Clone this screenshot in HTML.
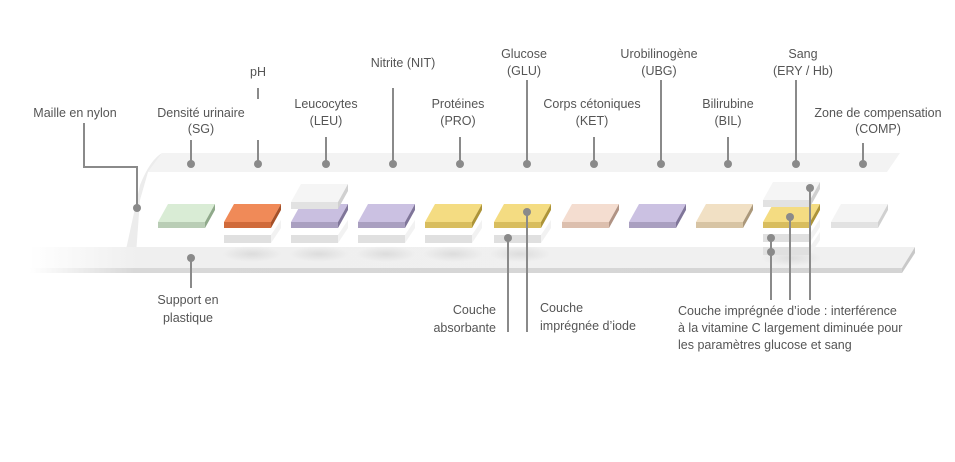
<!DOCTYPE html>
<html><head><meta charset="utf-8"><style>
html,body{margin:0;padding:0;background:#fff}
svg{display:block}
text{font-family:"Liberation Sans",sans-serif;font-size:12.5px;fill:#555}
</style></head><body>
<svg width="955" height="462" viewBox="0 0 955 462" xmlns="http://www.w3.org/2000/svg">
<defs>
<linearGradient id="base" x1="0" x2="1" y1="0" y2="0">
<stop offset="0" stop-color="#fff"/><stop offset="0.12" stop-color="#efefef"/><stop offset="1" stop-color="#f0f0f0"/>
</linearGradient>
<linearGradient id="baseb" x1="0" x2="1">
<stop offset="0" stop-color="#fff"/><stop offset="0.12" stop-color="#d8d8d8"/><stop offset="1" stop-color="#d4d4d4"/>
</linearGradient>
<radialGradient id="sh"><stop offset="0" stop-color="#000" stop-opacity="0.08"/><stop offset="1" stop-color="#000" stop-opacity="0"/></radialGradient>
</defs>
<path d="M162,153 L900,153 L887,172 L148,172 Z" fill="#f3f3f3"/>
<path d="M148,172 L162,153 Q150,160 140,185 L122,268 L135,268 L140,200 Z" fill="#ececec"/>
<path d="M30,247 L915,247 L902,268 L30,268 Z" fill="url(#base)"/>
<path d="M30,268 L902,268 L902,273 L30,273 Z" fill="url(#baseb)"/>
<path d="M902,268 L915,247 L915,253 L902,273 Z" fill="#c8c8c8"/>
<g fill="url(#sh)">
<ellipse cx="252" cy="254" rx="30" ry="8"/><ellipse cx="319" cy="254" rx="30" ry="8"/><ellipse cx="386" cy="254" rx="30" ry="8"/><ellipse cx="453" cy="254" rx="30" ry="8"/><ellipse cx="520" cy="254" rx="30" ry="8"/><ellipse cx="791" cy="258" rx="30" ry="8"/>
</g>
<g fill="#f2f2f2">
<path d="M224,235h47l10,-15v8l-10,15h-47z"/><path d="M291,235h47l10,-15v8l-10,15h-47z"/><path d="M358,235h47l10,-15v8l-10,15h-47z"/><path d="M425,235h47l10,-15v8l-10,15h-47z"/><path d="M494,235h47l10,-15v8l-10,15h-47z"/>
<path d="M763,234h47l10,-15v8l-10,15h-47z"/><path d="M763,247h47l10,-15v8l-10,15h-47z"/>
</g>
<g fill="#e0e0e0"><rect x="224" y="235" width="47" height="8"/><rect x="291" y="235" width="47" height="8"/><rect x="358" y="235" width="47" height="8"/><rect x="425" y="235" width="47" height="8"/><rect x="494" y="235" width="47" height="8"/><rect x="763" y="234" width="47" height="8"/><rect x="763" y="247" width="47" height="8"/></g>
<g>
<path d="M158,222h47l10,-18h-47z" fill="#d9ecd5"/><rect x="158" y="222" width="47" height="6" fill="#b9cdb5"/><path d="M205,222l10,-18v6l-10,18z" fill="#8fa98a"/>
<path d="M224,222h47l10,-18h-47z" fill="#f08a58"/><rect x="224" y="222" width="47" height="6" fill="#d06a3a"/><path d="M271,222l10,-18v6l-10,18z" fill="#a55028"/>
<path d="M291,222h47l10,-18h-47z" fill="#c9bfe0"/><rect x="291" y="222" width="47" height="6" fill="#a99fc0"/><path d="M338,222l10,-18v6l-10,18z" fill="#7f7599"/>
<path d="M358,222h47l10,-18h-47z" fill="#cbc1e2"/><rect x="358" y="222" width="47" height="6" fill="#a99fc0"/><path d="M405,222l10,-18v6l-10,18z" fill="#7f7599"/>
<path d="M425,222h47l10,-18h-47z" fill="#f4dc82"/><rect x="425" y="222" width="47" height="6" fill="#d8bd5e"/><path d="M472,222l10,-18v6l-10,18z" fill="#ad9438"/>
<path d="M494,222h47l10,-18h-47z" fill="#f4dc82"/><rect x="494" y="222" width="47" height="6" fill="#d8bd5e"/><path d="M541,222l10,-18v6l-10,18z" fill="#ad9438"/>
<path d="M562,222h47l10,-18h-47z" fill="#f4ddd0"/><rect x="562" y="222" width="47" height="6" fill="#dcbfae"/><path d="M609,222l10,-18v6l-10,18z" fill="#b09384"/>
<path d="M629,222h47l10,-18h-47z" fill="#cbc1e2"/><rect x="629" y="222" width="47" height="6" fill="#a99fc0"/><path d="M676,222l10,-18v6l-10,18z" fill="#7f7599"/>
<path d="M696,222h47l10,-18h-47z" fill="#f1e0c4"/><rect x="696" y="222" width="47" height="6" fill="#d7c4a4"/><path d="M743,222l10,-18v6l-10,18z" fill="#ab987a"/>
<path d="M763,222h47l10,-18h-47z" fill="#f4dc82"/><rect x="763" y="222" width="47" height="6" fill="#d8bd5e"/><path d="M810,222l10,-18v6l-10,18z" fill="#ad9438"/>
<path d="M831,222h47l10,-18h-47z" fill="#f4f4f4"/><rect x="831" y="222" width="47" height="6" fill="#e2e2e2"/><path d="M878,222l10,-18v6l-10,18z" fill="#d0d0d0"/>
<path d="M291,202h47l10,-18h-47z" fill="#f5f5f5"/><rect x="291" y="202" width="47" height="7" fill="#e2e2e2"/><path d="M338,202l10,-18v7l-10,18z" fill="#d0d0d0"/>
<path d="M763,200h47l10,-18h-47z" fill="#f5f5f5"/><rect x="763" y="200" width="47" height="7" fill="#e2e2e2"/><path d="M810,200l10,-18v7l-10,18z" fill="#d0d0d0"/>
</g>
<g stroke="#8a8a8a" stroke-width="2" fill="none">
<path d="M84,123V167H137V207"/>
<path d="M191,140V164"/><path d="M258,88V99"/><path d="M258,140V164"/><path d="M326,137V164"/><path d="M393,88V164"/><path d="M460,137V164"/><path d="M527,80V164"/><path d="M594,137V164"/><path d="M661,80V164"/><path d="M728,137V164"/><path d="M796,80V164"/><path d="M863,143V164"/>
<path d="M191,258V288"/><path d="M508,238V332"/><path d="M527,212V332"/>
<path d="M771,238V300"/><path d="M790,217V300"/><path d="M810,188V300"/>
</g>
<g fill="#8a8a8a">
<circle cx="137" cy="208" r="4"/>
<circle cx="191" cy="164" r="4"/><circle cx="258" cy="164" r="4"/><circle cx="326" cy="164" r="4"/><circle cx="393" cy="164" r="4"/><circle cx="460" cy="164" r="4"/><circle cx="527" cy="164" r="4"/><circle cx="594" cy="164" r="4"/><circle cx="661" cy="164" r="4"/><circle cx="728" cy="164" r="4"/><circle cx="796" cy="164" r="4"/><circle cx="863" cy="164" r="4"/>
<circle cx="191" cy="258" r="4"/><circle cx="508" cy="238" r="4"/><circle cx="527" cy="212" r="4"/>
<circle cx="771" cy="238" r="4"/><circle cx="771" cy="252" r="4"/><circle cx="790" cy="217" r="4"/><circle cx="810" cy="188" r="4"/>
</g>
<g text-anchor="middle">
<text x="75" y="117">Maille en nylon</text>
<text x="201" y="117">Densité urinaire</text><text x="201" y="133">(SG)</text>
<text x="258" y="76">pH</text>
<text x="326" y="108">Leucocytes</text><text x="326" y="125">(LEU)</text>
<text x="403" y="67">Nitrite (NIT)</text>
<text x="458" y="108">Protéines</text><text x="458" y="125">(PRO)</text>
<text x="524" y="58">Glucose</text><text x="524" y="75">(GLU)</text>
<text x="592" y="108">Corps cétoniques</text><text x="592" y="125">(KET)</text>
<text x="659" y="58">Urobilinogène</text><text x="659" y="75">(UBG)</text>
<text x="728" y="108">Bilirubine</text><text x="728" y="125">(BIL)</text>
<text x="803" y="58">Sang</text><text x="803" y="75">(ERY / Hb)</text>
<text x="878" y="117">Zone de compensation</text><text x="878" y="133">(COMP)</text>
<text x="188" y="304">Support en</text><text x="188" y="322">plastique</text>
</g>
<g text-anchor="end"><text x="496" y="314">Couche</text><text x="496" y="332">absorbante</text></g>
<text x="540" y="312">Couche</text><text x="540" y="330">imprégnée d’iode</text>
<text x="678" y="315">Couche imprégnée d’iode : interférence</text>
<text x="678" y="332">à la vitamine C largement diminuée pour</text>
<text x="678" y="349">les paramètres glucose et sang</text>
</svg>
</body></html>
